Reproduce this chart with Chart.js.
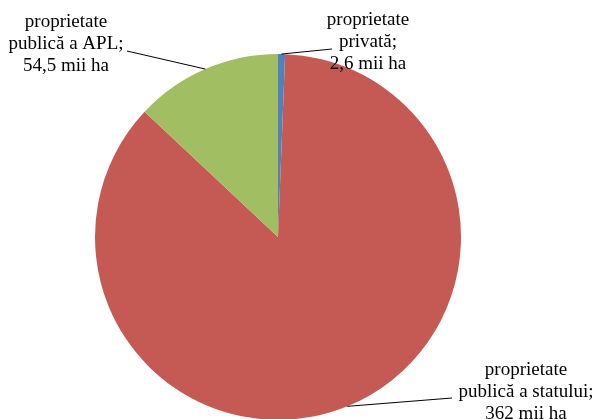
<!DOCTYPE html>
<html>
<head>
<meta charset="utf-8">
<script src="https://cdn.jsdelivr.net/npm/chart.js@4"></script>
<style>
  html, body { margin: 0; padding: 0; background: #fff; overflow: hidden; }
  #wrap { width: 595px; height: 440px; }
</style>
</head>
<body>
<div id="wrap"><canvas id="pieChart" width="595" height="440"></canvas></div>
<script>
const categories = ['proprietate privată', 'proprietate publică a statului', 'proprietate publică a APL'];
const values = [2.6, 362, 54.5];
const valueLabels = ['2,6 mii ha', '362 mii ha', '54,5 mii ha'];
const colors = ['#4F81BD', '#C55A55', '#A2BE62'];

// label text lines and where each label box sits (center x, first line y, end of leader line)
const labelLines = [
  ['proprietate', 'privată;', valueLabels[0]],
  ['proprietate', 'publică a statului;', valueLabels[1]],
  ['proprietate', 'publică a APL;', valueLabels[2]]
];
const labelPos = [
  { x: 368, y: 20, lx: 332, ly: 49 },
  { x: 526, y: 370, lx: 452, ly: 398 },
  { x: 66, y: 22, lx: 127, ly: 51 }
];

const leaderLabels = {
  id: 'leaderLabels',
  afterDatasetsDraw(chart) {
    const c = chart.ctx;
    const arcs = chart.getDatasetMeta(0).data;
    c.save();
    c.font = '19px "Liberation Serif", "Times New Roman", serif';
    c.fillStyle = '#000';
    c.textAlign = 'center';
    c.textBaseline = 'middle';
    arcs.forEach((arc, i) => {
      const p = arc.getProps(['x', 'y', 'startAngle', 'endAngle', 'outerRadius'], true);
      const mid = (p.startAngle + p.endAngle) / 2;
      const ex = p.x + Math.cos(mid) * p.outerRadius;
      const ey = p.y + Math.sin(mid) * p.outerRadius;
      const pos = labelPos[i];
      c.strokeStyle = '#000';
      c.lineWidth = 1;
      c.beginPath();
      c.moveTo(ex, ey);
      c.lineTo(pos.lx, pos.ly);
      c.stroke();
      labelLines[i].forEach((t, k) => {
        c.fillText(t, pos.x, pos.y + k * 22);
      });
    });
    c.restore();
  }
};

new Chart(document.getElementById('pieChart'), {
  type: 'pie',
  data: {
    labels: categories,
    datasets: [{
      data: values,
      backgroundColor: colors,
      borderWidth: 0
    }]
  },
  options: {
    responsive: false,
    animation: false,
    layout: { padding: { left: 95, right: 134, top: 54, bottom: 20 } },
    plugins: {
      legend: { display: false },
      tooltip: { enabled: false }
    }
  },
  plugins: [leaderLabels]
});
</script>
</body>
</html>
